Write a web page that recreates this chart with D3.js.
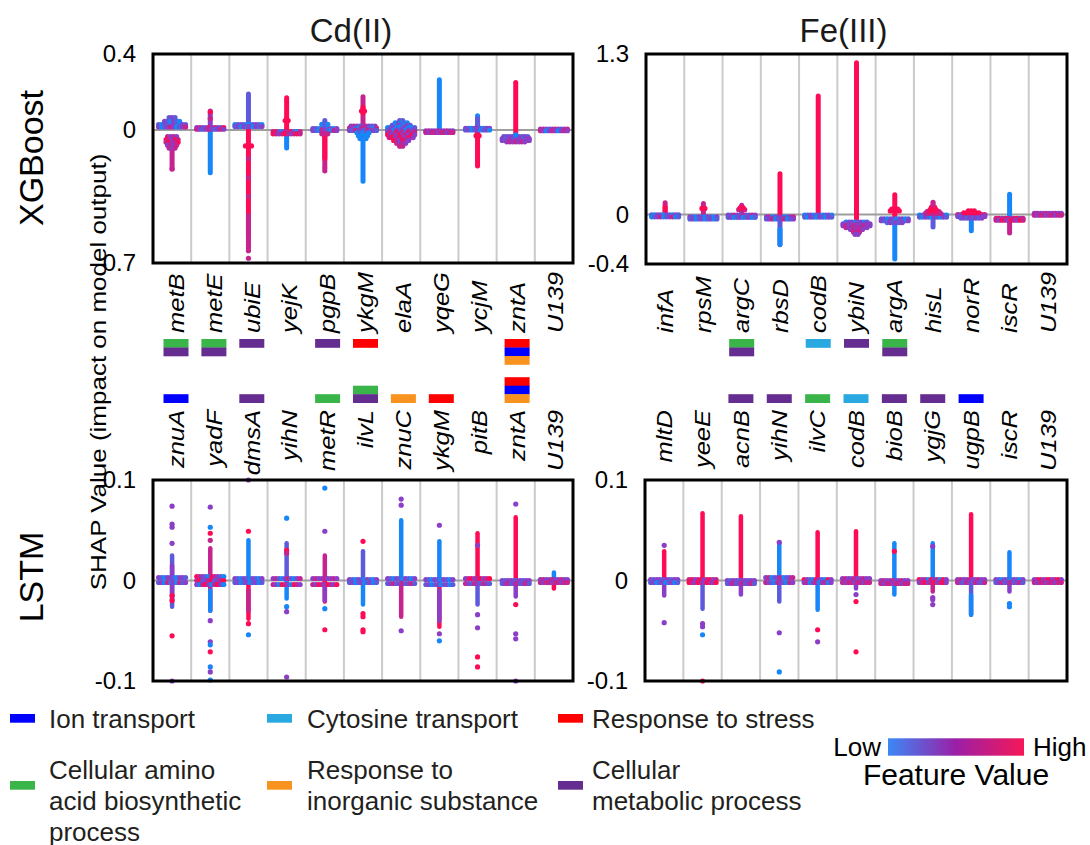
<!DOCTYPE html>
<html>
<head>
<meta charset="utf-8">
<script src="https://cdn.jsdelivr.net/npm/d3@7"></script>
<style>
  body { margin: 0; background: #fff; }
  svg { display: block; font-family: "Liberation Sans", Arial, Helvetica, sans-serif; }
</style>
</head>
<body>
<svg id="chart" width="1090" height="845"></svg>
<script>
// ---------------- data ----------------
const cdXgbGenes  = ["metB", "metE", "ubiE", "yejK", "pgpB", "ykgM", "elaA", "yqeG", "ycjM", "zntA", "U139"];
const feXgbGenes  = ["infA", "rpsM", "argC", "rbsD", "codB", "ybiN", "argA", "hisL", "norR", "iscR", "U139"];
const cdLstmGenes = ["znuA", "yadF", "dmsA", "yihN", "metR", "ilvL", "znuC", "ykgM", "pitB", "zntA", "U139"];
const feLstmGenes = ["mltD", "yeeE", "acnB", "yihN", "ilvC", "codB", "bioB", "ygjG", "ugpB", "iscR", "U139"];

const cdXgbTicks  = [0.4, 0, -0.7];
const feXgbTicks  = [1.3, 0, -0.4];
const lstmTicks   = [0.1, 0, -0.1];

const metals = ["Cd(II)", "Fe(III)"];
const models = ["XGBoost", "LSTM"];

// GO categories (annotation bars + legend)
const categories = ["Ion transport", "Cytosine transport", "Response to stress",
  "Cellular amino acid biosynthetic process", "Response to inorganic substance", "Cellular metabolic process"];
const categoryKeys = ["ion", "cyt", "stress", "amino", "inorg", "metab"];
const categoryColors = ["#0000ff", "#29a9e0", "#ff0000", "#39b54a", "#f7931e", "#662d91"];
const legendLines = [["Ion transport"], ["Cytosine transport"], ["Response to stress"],
  ["Cellular amino", "acid biosynthetic", "process"], ["Response to", "inorganic substance"], ["Cellular", "metabolic process"]];

// annotation stacks per gene (listed top to bottom)
const cdXgbTags  = [["amino", "metab"], ["amino", "metab"], ["metab"], [], ["metab"], ["stress"], [], [], [], ["stress", "ion", "inorg"], []];
const feXgbTags  = [[], [], ["amino", "metab"], [], ["cyt"], ["metab"], ["amino", "metab"], [], [], [], []];
const cdLstmTags = [["ion"], [], ["metab"], [], ["amino"], ["amino", "metab"], ["inorg"], ["stress"], [], ["stress", "ion", "inorg"], []];
const feLstmTags = [[], [], ["metab"], ["metab"], ["amino"], ["cyt"], ["metab"], ["metab"], ["ion"], [], []];

// feature-value levels: b = low, v, p = mid, m, r = high
const levelCodes = { b: 0, v: 0.3, p: 0.5, m: 0.75, r: 1 };

// SHAP distributions per feature:
//   rows  [shap, samples across, feature levels]   dense horizontal bins
//   stems [from, to, level]                          continuous runs of samples
//   dots  [shap, level]                              isolated samples
const cdXgbSwarm = [
  { rows: [[0.065, 3, "vp"], [0.045, 6, "pvb"], [0.028, 10, "vbpvbp"], [0.016, 10, "pbvpm"], [-0.035, 4, "mp"], [-0.05, 5, "rmp"], [-0.065, 5, "mrp"], [-0.08, 4, "pm"], [-0.095, 3, "mp"]],
    stems: [[-0.1, -0.205, "m"]], dots: [[-0.205, "m"]] },
  { rows: [[0.012, 10, "pmpvr"], [0.004, 10, "mpvp"]],
    stems: [[0.1, 0.005, "p"], [0.0, -0.225, "b"]], dots: [[0.095, "r"], [0.06, "m"]] },
  { rows: [[0.028, 10, "bvpvb"], [0.018, 10, "vpbp"], [-0.084, 3, "r"]],
    stems: [[0.19, 0.03, "v"], [0.01, -0.55, "r"], [-0.45, -0.58, "m"]],
    dots: [[-0.15, "m"], [-0.25, "m"], [-0.35, "m"], [-0.59, "m"], [-0.605, "m"], [-0.62, "m"], [-0.635, "m"], [-0.675, "m"]] },
  { rows: [[-0.008, 10, "mrvbm"], [-0.02, 10, "rmpm"], [0.05, 2, "r"]],
    stems: [[0.17, -0.01, "r"], [-0.02, -0.095, "b"]], dots: [] },
  { rows: [[0.008, 9, "vpbpv"], [-0.002, 9, "pvbm"], [0.03, 3, "bv"], [-0.02, 3, "m"]],
    stems: [[0.05, 0.01, "v"], [-0.01, -0.19, "m"], [-0.03, -0.15, "r"]], dots: [[-0.2, "m"], [-0.215, "m"]] },
  { rows: [[0.02, 9, "pmpv"], [0.01, 10, "mpvbm"], [-0.002, 10, "pvmp"], [-0.015, 5, "bv"], [-0.03, 4, "b"], [-0.045, 3, "b"], [0.1, 2, "r"]],
    stems: [[0.175, 0.03, "m"], [0.12, 0.09, "r"], [-0.03, -0.27, "b"]], dots: [] },
  { rows: [[0.05, 2, "v"], [0.038, 5, "bv"], [0.025, 7, "vbp"], [0.012, 10, "bvpb"], [0.0, 10, "vpbp"], [-0.012, 10, "pmvr"], [-0.025, 10, "rpmp"], [-0.04, 9, "mrp"], [-0.055, 6, "rmp"], [-0.07, 4, "mp"], [-0.085, 2, "m"]],
    stems: [], dots: [] },
  { rows: [[-0.005, 10, "pmp"], [-0.013, 10, "mpm"]],
    stems: [[0.265, -0.005, "b"]], dots: [] },
  { rows: [[0.009, 9, "pvbp"], [0.0, 9, "vpb"], [-0.03, 2, "r"]],
    stems: [[0.075, 0.005, "b"], [0.06, 0.02, "v"], [-0.005, -0.19, "r"]], dots: [] },
  { rows: [[-0.035, 9, "vp"], [-0.045, 10, "pvp"], [-0.055, 10, "pvp"], [-0.062, 7, "pm"]],
    stems: [[0.25, -0.03, "r"]], dots: [[-0.025, "b"]] },
  { rows: [[0.005, 10, "pmpv"], [-0.004, 10, "mpbp"]], stems: [], dots: [] }
];

const feXgbSwarm = [
  { rows: [[-0.002, 10, "vbp"], [-0.018, 10, "bvpm"]], stems: [[0.095, 0, "m"], [0.06, 0, "r"]], dots: [] },
  { rows: [[-0.018, 10, "pvb"], [-0.035, 10, "vpb"], [0.05, 2, "r"]], stems: [[0.09, 0, "m"]], dots: [] },
  { rows: [[-0.005, 10, "pvm"], [-0.022, 10, "vpb"], [0.04, 3, "m"], [0.055, 2, "r"]], stems: [[0.075, 0, "m"]], dots: [] },
  { rows: [[-0.018, 10, "pmbv"], [-0.035, 10, "vpmb"]], stems: [[0.33, 0, "r"], [-0.03, -0.245, "v"], [-0.12, -0.24, "b"]], dots: [] },
  { rows: [[-0.005, 10, "bvp"], [-0.02, 10, "vbp"]], stems: [[0.96, 0, "r"]], dots: [] },
  { rows: [[-0.06, 8, "bvp"], [-0.075, 10, "pvp"], [-0.09, 10, "pmp"], [-0.105, 8, "mp"], [-0.12, 5, "pm"], [-0.14, 3, "m"], [-0.16, 2, "p"]],
    stems: [[1.23, -0.06, "r"]], dots: [] },
  { rows: [[-0.035, 10, "vpb"], [-0.05, 10, "pvb"], [-0.065, 6, "vp"], [0.03, 4, "r"], [0.045, 3, "r"]],
    stems: [[0.16, -0.02, "r"], [-0.06, -0.36, "b"]], dots: [] },
  { rows: [[-0.005, 10, "bvp"], [-0.02, 10, "vbp"], [0.01, 6, "m"], [0.025, 5, "mr"], [0.04, 3, "r"], [0.06, 2, "r"], [0.08, 1, "m"]],
    stems: [[-0.02, -0.1, "v"]], dots: [[0.1, "m"]] },
  { rows: [[0.0, 10, "mpm"], [-0.015, 10, "pvp"], [-0.028, 8, "vp"], [0.015, 6, "r"], [0.03, 3, "r"]],
    stems: [[-0.03, -0.13, "b"]], dots: [] },
  { rows: [[-0.03, 10, "mrp"], [-0.045, 10, "mpr"]], stems: [[0.165, -0.02, "b"], [-0.05, -0.15, "m"]], dots: [] },
  { rows: [[0.01, 10, "pmp"], [-0.005, 10, "mpm"]], stems: [], dots: [] }
];

const cdLstmSwarm = [
  { rows: [[0.003, 10, "pvbp"], [-0.002, 10, "vpbm"]], stems: [[0.025, -0.026, "v"], [0.015, -0.02, "p"]],
    dots: [[0.037, "p"], [0.053, "p"], [0.056, "p"], [0.074, "p"], [-0.015, "r"], [-0.02, "r"], [-0.055, "r"], [-0.1, "p"]] },
  { rows: [[0.004, 10, "rmpvb"], [0.0, 10, "mrvp"], [-0.004, 10, "pbmr"]], stems: [[0.032, -0.03, "m"], [-0.01, -0.03, "b"]],
    dots: [[0.04, "m"], [0.047, "r"], [0.053, "b"], [0.073, "p"], [-0.04, "p"], [-0.061, "p"], [-0.064, "b"], [-0.071, "r"], [-0.086, "b"], [-0.091, "p"], [-0.099, "b"]] },
  { rows: [[0.002, 10, "pvb"], [-0.002, 10, "vpb"]], stems: [[0.04, 0.0, "b"], [0.0, -0.038, "r"], [-0.01, -0.03, "m"]],
    dots: [[0.049, "r"], [0.1, "p"], [-0.043, "r"], [-0.054, "b"]] },
  { rows: [[0.002, 10, "pmvb"], [-0.004, 10, "mpbr"]], stems: [[0.037, 0.0, "v"], [0.0, -0.018, "b"]],
    dots: [[0.062, "b"], [0.03, "r"], [0.027, "m"], [-0.026, "b"], [-0.031, "p"], [-0.096, "p"]] },
  { rows: [[0.002, 9, "pmp"], [-0.004, 9, "mpr"]], stems: [[0.025, 0.0, "m"], [0.0, -0.021, "r"], [-0.005, -0.02, "p"]],
    dots: [[0.049, "p"], [0.092, "b"], [-0.028, "b"], [-0.049, "r"]] },
  { rows: [[0.001, 10, "pvb"], [-0.002, 10, "vpb"]], stems: [[0.029, 0.0, "v"], [0.0, -0.024, "b"]],
    dots: [[0.039, "r"], [-0.033, "r"], [-0.036, "r"], [-0.049, "r"], [-0.051, "r"]] },
  { rows: [[0.002, 10, "pvb"], [-0.003, 10, "vpm"]], stems: [[0.06, 0.0, "b"], [0.0, -0.036, "m"]],
    dots: [[0.075, "p"], [0.081, "p"], [-0.05, "p"]] },
  { rows: [[0.001, 10, "pvb"], [-0.004, 10, "vpb"]], stems: [[0.039, 0.0, "b"], [0.0, -0.046, "r"], [-0.01, -0.04, "p"]],
    dots: [[0.055, "p"], [-0.053, "p"], [-0.06, "b"]] },
  { rows: [[0.002, 9, "pmr"], [-0.003, 9, "mpv"]], stems: [[0.047, 0.0, "r"], [0.0, -0.024, "v"]],
    dots: [[0.035, "p"], [-0.034, "p"], [-0.047, "p"], [-0.076, "r"], [-0.086, "r"]] },
  { rows: [[0.0, 10, "pvp"], [-0.003, 10, "vpm"]], stems: [[0.063, 0.0, "r"], [0.0, -0.016, "p"]],
    dots: [[0.076, "p"], [-0.024, "r"], [-0.053, "p"], [-0.058, "p"], [-0.1, "p"]] },
  { rows: [[0.001, 10, "pmp"], [-0.002, 10, "mpm"]], stems: [[0.008, 0, "b"], [0, -0.008, "r"]], dots: [] }
];

const feLstmSwarm = [
  { rows: [[0.001, 10, "pvp"], [-0.002, 10, "vpb"]], stems: [[0.029, 0, "r"], [0, -0.015, "p"]], dots: [[0.035, "p"], [-0.042, "p"]] },
  { rows: [[0.001, 10, "mrp"], [-0.002, 10, "rmp"]], stems: [[0.067, 0, "r"], [0, -0.028, "v"]],
    dots: [[-0.043, "p"], [-0.046, "p"], [-0.054, "b"], [-0.1, "r"]] },
  { rows: [[0.0, 10, "pvp"], [-0.003, 10, "vpm"]], stems: [[0.064, 0.0, "r"], [0, -0.014, "p"]], dots: [] },
  { rows: [[0.003, 10, "pmbv"], [-0.002, 10, "mpvb"]], stems: [[0.037, 0, "b"], [0, -0.021, "v"]],
    dots: [[0.038, "p"], [-0.052, "p"], [-0.091, "b"]] },
  { rows: [[0.001, 10, "rpvb"], [-0.002, 10, "pmb"]], stems: [[0.048, 0, "r"], [0, -0.029, "b"]], dots: [[-0.049, "r"], [-0.061, "p"]] },
  { rows: [[0.002, 10, "pmp"], [-0.002, 10, "mpm"]], stems: [[0.049, 0, "r"], [0, -0.008, "p"]],
    dots: [[-0.014, "p"], [-0.021, "r"], [-0.071, "r"]] },
  { rows: [[0.0, 10, "pmp"], [-0.003, 10, "mpm"]], stems: [[0.037, 0, "b"], [0, -0.014, "b"]], dots: [[0.029, "r"]] },
  { rows: [[0.001, 10, "rpmb"], [-0.002, 10, "pmr"]], stems: [[0.037, 0, "b"], [0, -0.011, "m"]],
    dots: [[0.034, "p"], [-0.017, "p"], [-0.019, "p"], [-0.024, "p"]] },
  { rows: [[0.001, 10, "pmp"], [-0.002, 10, "mpv"]], stems: [[0.066, 0, "r"], [0, -0.034, "v"], [-0.015, -0.034, "b"]], dots: [] },
  { rows: [[0.001, 10, "pvb"], [-0.002, 10, "vpm"]], stems: [[0.028, 0, "b"], [0, -0.011, "p"]], dots: [[-0.023, "b"], [-0.026, "b"]] },
  { rows: [[0.001, 10, "pmr"], [-0.002, 10, "mpm"]], stems: [], dots: [] }
];

// ---------------- layout ----------------
const svg = d3.select("#chart");
const FONT_COLOR = "#1a1a1a";

const panels = [
  { genes: cdXgbGenes,  swarm: cdXgbSwarm,  ticks: cdXgbTicks, tags: cdXgbTags,  x0: 153, x1: 573,  y0: 54,  y1: 263, labelRange: [176, 555], group: "top",    stemW: 5 },
  { genes: feXgbGenes,  swarm: feXgbSwarm,  ticks: feXgbTicks, tags: feXgbTags,  x0: 646, x1: 1067, y0: 54,  y1: 264, labelRange: null,       group: "top",    stemW: 5 },
  { genes: cdLstmGenes, swarm: cdLstmSwarm, ticks: lstmTicks,  tags: cdLstmTags, x0: 153, x1: 573,  y0: 480, y1: 681, labelRange: [176, 555], group: "bottom", stemW: 4.5 },
  { genes: feLstmGenes, swarm: feLstmSwarm, ticks: lstmTicks,  tags: feLstmTags, x0: 645, x1: 1067, y0: 480, y1: 681, labelRange: null,       group: "bottom", stemW: 4.5 }
];

const levelColor = d3.scaleLinear()
  .domain([0, 0.5, 1])
  .range(["#1786f8", "#8b3ec8", "#ff0a54"])
  .interpolate(d3.interpolateRgb);

const colorOf = code => levelColor(levelCodes[code]);
const catColor = key => categoryColors[categoryKeys.indexOf(key)];

const DOT_R = 2.6, DOT_STEP = 3.0;
const BAR_W = 25, BAR_H = 8.5;

panels.forEach(p => {
  const idx = p.genes.map((_, i) => i);
  const x = d3.scaleBand().domain(idx).range([p.x0, p.x1]).padding(0);
  const y = d3.scaleLinear().domain([p.ticks[2], p.ticks[0]]).range([p.y1, p.y0]);
  const g = svg.append("g");

  // column separators
  g.selectAll("line.sep").data(idx.slice(1)).join("line")
    .attr("x1", i => x(i)).attr("x2", i => x(i))
    .attr("y1", p.y0).attr("y2", p.y1)
    .attr("stroke", "#cbcbcb").attr("stroke-width", 2);

  // zero line
  g.append("line")
    .attr("x1", p.x0).attr("x2", p.x1)
    .attr("y1", y(0)).attr("y2", y(0))
    .attr("stroke", "#9e9e9e").attr("stroke-width", 2);

  // swarm marks
  p.swarm.forEach((f, i) => {
    const cx = x(i) + x.bandwidth() / 2;
    const fg = g.append("g");
    fg.selectAll("line.stem").data(f.stems).join("line")
      .attr("x1", cx).attr("x2", cx)
      .attr("y1", d => y(d[0])).attr("y2", d => y(d[1]))
      .attr("stroke", d => colorOf(d[2]))
      .attr("stroke-width", p.stemW).attr("stroke-linecap", "round");
    const rowDots = [];
    f.rows.forEach(([v, n, codes]) => {
      for (let k = 0; k < n; k++) {
        rowDots.push({ v, dx: (k - (n - 1) / 2) * DOT_STEP, c: codes[k % codes.length] });
      }
    });
    fg.selectAll("circle.row").data(rowDots).join("circle")
      .attr("cx", d => cx + d.dx).attr("cy", d => y(d.v))
      .attr("r", DOT_R).attr("fill", d => colorOf(d.c));
    fg.selectAll("circle.dot").data(f.dots).join("circle")
      .attr("cx", cx).attr("cy", d => y(d[0]))
      .attr("r", DOT_R).attr("fill", d => colorOf(d[1]));
  });

  // frame
  g.append("rect")
    .attr("x", p.x0).attr("y", p.y0)
    .attr("width", p.x1 - p.x0).attr("height", p.y1 - p.y0)
    .attr("fill", "none").attr("stroke", "#000").attr("stroke-width", 3);

  // y axis labels
  const ax = g.append("g").attr("transform", `translate(${p.x0},0)`)
    .call(d3.axisLeft(y).tickValues(p.ticks).tickSize(0).tickPadding(17).tickFormat(d => String(d)));
  ax.select(".domain").remove();
  ax.selectAll("text").attr("font-size", 24).attr("fill", "#000")
    .attr("font-family", "'Liberation Sans', Arial, sans-serif");

  // gene labels + annotation bars
  const lx = p.labelRange
    ? d3.scalePoint().domain(idx).range(p.labelRange)
    : (i => x(i) + x.bandwidth() / 2);
  const top = p.group === "top";
  const anchorY = top ? 333 : 410;
  g.selectAll("text.gene").data(p.genes).join("text")
    .attr("transform", (d, i) => `translate(${lx(i)},${anchorY}) rotate(-90) scale(1,0.84)`)
    .attr("dy", "0.36em")
    .attr("text-anchor", top ? "start" : "end")
    .attr("font-size", 25.5).attr("font-style", "italic").attr("fill", "#000")
    .text(d => d);

  p.tags.forEach((list, i) => {
    list.forEach((key, j) => {
      const yy = top ? 339 + j * BAR_H : 402.7 - (list.length - j) * BAR_H;
      g.append("rect")
        .attr("x", lx(i) - BAR_W / 2).attr("y", yy)
        .attr("width", BAR_W).attr("height", BAR_H + 0.3)
        .attr("fill", catColor(key));
    });
  });
});

// metal titles
const titleX = [351, 843.5];
metals.forEach((m, i) => {
  svg.append("text").attr("x", titleX[i]).attr("y", 42)
    .attr("text-anchor", "middle").attr("font-size", 33).attr("fill", FONT_COLOR).text(m);
});

// model row labels
const modelY = [158, 577];
models.forEach((m, i) => {
  svg.append("text").attr("transform", `translate(43,${modelY[i]}) rotate(-90)`)
    .attr("text-anchor", "middle").attr("font-size", 34).attr("fill", "#000").text(m);
});

svg.append("text").attr("transform", "translate(106,372) rotate(-90) scale(1,0.88)")
  .attr("text-anchor", "middle").attr("font-size", 26).attr("fill", "#000")
  .text("SHAP Value (impact on model output)");

// category legend
const legendCols = [{ sx: 10, tx: 49 }, { sx: 267, tx: 307 }, { sx: 558, tx: 592 }];
const legendRows = [{ swY: 714, base: 728.3 }, { swY: 781, base: 779.3 }];
categories.forEach((c, k) => {
  const col = legendCols[k % 3], row = legendRows[Math.floor(k / 3)];
  svg.append("rect").attr("x", col.sx).attr("y", row.swY).attr("width", 25).attr("height", 8.7)
    .attr("fill", categoryColors[k]);
  const t = svg.append("text").attr("x", col.tx).attr("y", row.base)
    .attr("font-size", 26).attr("fill", "#231f20");
  legendLines[k].forEach((ln, li) => {
    t.append("tspan").attr("x", col.tx).attr("dy", li === 0 ? 0 : 31).text(ln);
  });
});

// feature value colour bar
const defs = svg.append("defs");
const grad = defs.append("linearGradient").attr("id", "fvGrad");
[["0%", "#3b88f6"], ["50%", "#9b1fa6"], ["100%", "#f51858"]].forEach(([o, c]) => {
  grad.append("stop").attr("offset", o).attr("stop-color", c);
});
svg.append("rect").attr("x", 888).attr("y", 738.3).attr("width", 136).attr("height", 17.4)
  .attr("fill", "url(#fvGrad)");
svg.append("text").attr("x", 881).attr("y", 755.7).attr("text-anchor", "end")
  .attr("font-size", 26).attr("fill", "#000").text("Low");
svg.append("text").attr("x", 1033).attr("y", 755.7)
  .attr("font-size", 26).attr("fill", "#000").text("High");
svg.append("text").attr("x", 956).attr("y", 785).attr("text-anchor", "middle")
  .attr("font-size", 30).attr("fill", "#000").text("Feature Value");
</script>
</body>
</html>
